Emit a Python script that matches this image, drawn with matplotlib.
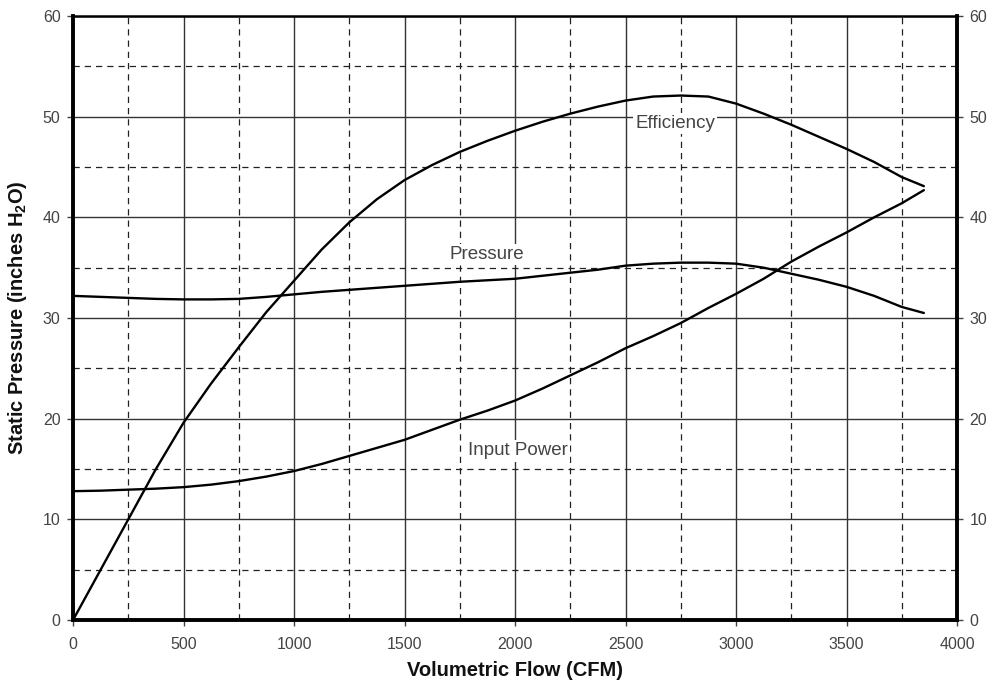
import matplotlib
matplotlib.use("Agg")
import matplotlib.pyplot as plt
from matplotlib.ticker import MultipleLocator

plt.rcParams['font.family'] = ['Liberation Sans', 'DejaVu Sans']
plt.rcParams['mathtext.fontset'] = 'custom'
plt.rcParams['mathtext.rm'] = 'Liberation Sans:bold'
plt.rcParams['mathtext.bf'] = 'Liberation Sans:bold'

# Data
flow = [0, 125, 250, 375, 500, 625, 750, 875, 1000, 1125, 1250, 1375, 1500, 1625, 1750, 1875,
        2000, 2125, 2250, 2375, 2500, 2625, 2750, 2875, 3000, 3125, 3250, 3375, 3500, 3625, 3750, 3850]
efficiency = [0, 5.0, 10.0, 15.0, 19.6, 23.5, 27.1, 30.6, 33.7, 36.8, 39.5, 41.8, 43.7, 45.2, 46.5, 47.6,
              48.6, 49.5, 50.3, 51.0, 51.6, 52.0, 52.1, 52.0, 51.3, 50.3, 49.2, 48.0, 46.8, 45.5, 44.0, 43.1]
pressure = [32.2, 32.1, 32.0, 31.9, 31.85, 31.85, 31.9, 32.1, 32.35, 32.6, 32.8, 33.0, 33.2, 33.4, 33.6, 33.75,
            33.9, 34.2, 34.5, 34.8, 35.2, 35.4, 35.5, 35.5, 35.4, 35.0, 34.4, 33.8, 33.1, 32.2, 31.1, 30.5]
input_power = [12.8, 12.85, 12.95, 13.05, 13.2, 13.45, 13.8, 14.25, 14.8, 15.5, 16.3, 17.1, 17.9, 18.9, 19.9, 20.8,
               21.8, 23.0, 24.3, 25.6, 27.0, 28.2, 29.5, 31.0, 32.4, 33.9, 35.6, 37.1, 38.5, 40.0, 41.4, 42.7]

labels = ["Efficiency", "Pressure", "Input Power"]
label_x = [2724, 1873, 2014]
label_y = [49.3, 36.3, 16.8]

x_ticks = [0, 500, 1000, 1500, 2000, 2500, 3000, 3500, 4000]
y_ticks = [0, 10, 20, 30, 40, 50, 60]

fig = plt.figure(figsize=(9.91, 6.90), dpi=100)
ax = fig.add_axes([0.0737, 0.1014, 0.892, 0.8754])

ax.set_xlim(0, 4000)
ax.set_ylim(0, 60)
ax.set_xticks(x_ticks)
ax.set_yticks(y_ticks)
ax.xaxis.set_minor_locator(MultipleLocator(250))
ax.yaxis.set_minor_locator(MultipleLocator(5))

ax.grid(which='major', color='#333333', linewidth=1.0, linestyle='-')
ax.grid(which='minor', color='#222222', linewidth=0.9, linestyle=(0, (5, 4)))
ax.set_axisbelow(True)

for series in (efficiency, pressure, input_power):
    ax.plot(flow, series, color='black', linewidth=1.7, solid_capstyle='round',
            solid_joinstyle='round', zorder=3)

for t, lx, ly in zip(labels, label_x, label_y):
    ax.text(lx, ly, t, ha='center', va='center', fontsize=13.5, color='#444444', zorder=4,
            bbox=dict(boxstyle='square,pad=0.12', facecolor='white', edgecolor='none'))

for side in ('left', 'bottom', 'right'):
    ax.spines[side].set_linewidth(2.8)
ax.spines['top'].set_linewidth(1.8)

ax.tick_params(which='major', direction='out', length=4, width=1, colors='#444444',
               labelsize=11.5, labelcolor='#444444', right=True, labelright=True, pad=5)
ax.tick_params(axis='x', which='major', pad=8)
ax.tick_params(which='minor', length=0)

ax.set_xlabel("Volumetric Flow (CFM)", fontsize=14.5, fontweight='bold', labelpad=7, color='#111111')
ax.set_ylabel(r"Static Pressure (inches H$_\mathbf{2}$O)", fontsize=14.5, fontweight='bold',
              labelpad=10, color='#111111')

fig.savefig("out.png", dpi=100)
